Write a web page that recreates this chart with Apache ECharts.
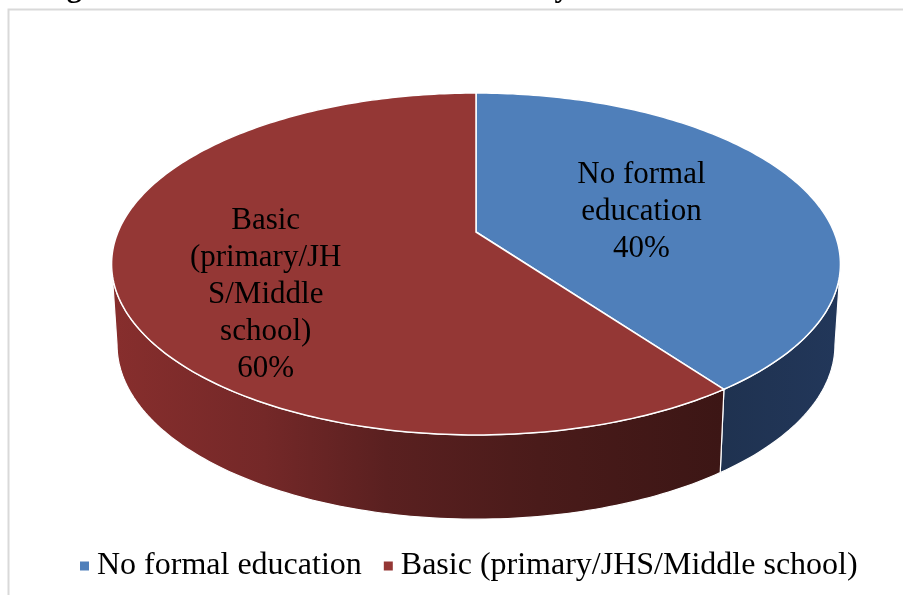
<!DOCTYPE html>
<html>
<head>
<meta charset="utf-8">
<script src="https://cdn.jsdelivr.net/npm/echarts@6/dist/echarts.min.js"></script>
<style>
  html, body { margin: 0; padding: 0; background: #ffffff; }
  #chart { width: 903px; height: 595px; }
</style>
</head>
<body>
<div id="chart"></div>
<script>
// Categories and their shares (%)
const categories = ['No formal education', 'Basic (primary/JHS/Middle school)'];
const values = [40, 60];
// Wrapped names shown on the slices
const sliceLabels = ['No formal\neducation', 'Basic\n(primary/JH\nS/Middle\nschool)'];

const titleText = 'Figure 4: Formal educational level of buyers.';

// Colours: top faces and side walls
const topColors = ['#4F7FBA', '#943735'];
const serif = "'Liberation Serif', 'Times New Roman', serif";

// Perspective ellipse used to draw the tilted pie
const geo = { cx: 476, cy: 232, a: 358, b: 165, k: 0.187, depth: 80, kd: 0.05, sx: 0.985 };
// Per-slice label anchor: fraction of radius, extra shift in px
const labelLayout = [{ r: 0.5, dx: 0, dy: 5 }, { r: 0.5, dx: -35, dy: 37 }];

const sideFills = [
  { type: 'linear', x: 720, y: 0, x2: 842, y2: 0, global: true,
    colorStops: [{ offset: 0, color: '#1F3250' }, { offset: 1, color: '#22375A' }] },
  { type: 'linear', x: 112, y: 0, x2: 722, y2: 0, global: true,
    colorStops: [
      { offset: 0, color: '#872E2D' },
      { offset: 0.25, color: '#742828' },
      { offset: 0.45, color: '#5A2020' },
      { offset: 0.7, color: '#4A1B1A' },
      { offset: 1, color: '#3C1615' }
    ] }
];

// plane angle (deg, clockwise from the far side) -> screen point
function proj(phiDeg, r, bottom) {
  const p = phiDeg * Math.PI / 180;
  const X = r * Math.sin(p), Z = -r * Math.cos(p);
  const w = 1 - geo.k * Z;
  let x = geo.cx + geo.a * X / w;
  let y = geo.cy + geo.b * Z / w;
  if (bottom) {
    x = geo.cx + (x - geo.cx) * geo.sx;
    y += geo.depth / (1 - geo.kd * Z);
  }
  return [x, y];
}

function arc(a0, a1, bottom) {
  const pts = [];
  const n = Math.max(2, Math.ceil(Math.abs(a1 - a0)));
  for (let j = 0; j <= n; j++) pts.push(proj(a0 + (a1 - a0) * j / n, 1, bottom));
  return pts;
}

const total = values.reduce((s, v) => s + v, 0);
const phiRight = Math.acos(-geo.k) * 180 / Math.PI;  // right silhouette
const phiLeft = 360 - phiRight;                       // left silhouette

function makeSeries(i) {
  const start = values.slice(0, i).reduce((s, v) => s + v, 0) / total * 360;
  const end = start + values[i] / total * 360;
  return {
    type: 'custom',
    name: categories[i],
    coordinateSystem: 'none',
    itemStyle: { color: topColors[i] },
    data: [values[i]],
    renderItem: function (params, api) {
      const v = api.value(0);
      const children = [];
      const a0 = Math.max(start, phiRight), a1 = Math.min(end, phiLeft);
      if (a1 > a0) {
        const pts = arc(a0, a1, false).concat(arc(a1, a0, true));
        children.push({
          type: 'polygon', z2: 1,
          shape: { points: pts },
          style: { fill: sideFills[i], stroke: '#ffffff', lineWidth: 1.2 }
        });
      }
      const topPts = [proj(0, 0, false)].concat(arc(start, end, false));
      children.push({
        type: 'polygon', z2: 5,
        shape: { points: topPts },
        style: { fill: topColors[i], stroke: '#ffffff', lineWidth: 1.5 }
      });
      const lay = labelLayout[i];
      const c = proj((start + end) / 2, lay.r, false);
      children.push({
        type: 'text', z2: 10,
        style: {
          text: sliceLabels[i] + '\n' + Math.round(v / total * 100) + '%',
          x: c[0] + lay.dx, y: c[1] + lay.dy,
          align: 'center', verticalAlign: 'middle',
          font: '31px ' + serif, lineHeight: 37, fill: '#000000'
        }
      });
      return { type: 'group', children: children };
    }
  };
}

const chart = echarts.init(document.getElementById('chart'), null, { renderer: 'canvas' });
chart.setOption({
  animation: false,
  backgroundColor: '#ffffff',
  color: topColors,
  title: {
    text: titleText,
    left: 40, top: -26,
    padding: 0,
    textStyle: { fontFamily: serif, fontWeight: 'bold', fontSize: 30, color: '#000000' }
  },
  graphic: [{
    type: 'rect', silent: true, z: -1,
    shape: { x: 8.5, y: 9.5, width: 1200, height: 1200 },
    style: { fill: 'none', stroke: '#D9D9D9', lineWidth: 2 }
  }],
  legend: {
    data: categories,
    left: 75, top: 545,
    icon: 'rect', itemWidth: 9, itemHeight: 9, itemGap: 22,
    textStyle: { fontFamily: serif, fontSize: 32, color: '#000000', padding: [0, 0, 0, 3] }
  },
  series: categories.map((_, i) => makeSeries(i))
});
</script>
</body>
</html>
